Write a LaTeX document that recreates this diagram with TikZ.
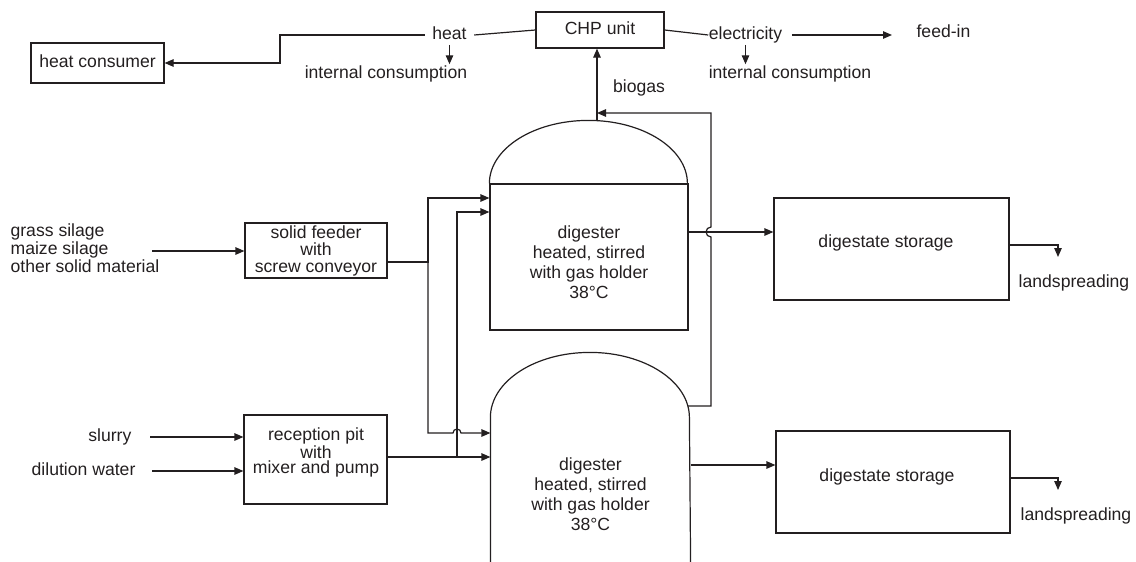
\documentclass[tikz,border=0pt]{standalone}
\usepackage{fontspec}
\setmainfont{Liberation Sans}
\usetikzlibrary{arrows.meta,positioning}
\definecolor{ink}{RGB}{35,31,32}

\begin{document}
\begin{tikzpicture}[
    x=1pt, y=-1pt,
    line width=1.2pt, color=ink,
    every node/.style={font=\fontsize{17.6}{17}\selectfont},
    lbl/.style={inner sep=1pt, text height=12.6pt, text depth=3.7pt},
    box/.style={draw, inner sep=0pt},
    tank/.style={draw, minimum width=198pt, minimum height=146pt,
        inner sep=0pt},
    >={Triangle[length=9pt,width=7.5pt]},
    ]
    \useasboundingbox (0,0) rectangle (1136,562);

    %CHP unit
    \node[box, lbl, inner sep=0pt, minimum width=128pt, minimum height=36pt] (chp) at (600,30) {CHP unit};
    \node[lbl, inner xsep=7pt] (heat) at (449.5,35) {heat};
    \node[lbl] (ic1) at (386,74) {internal consumption};
    \node[box, lbl, inner sep=0pt, minimum width=133pt, minimum height=40pt] (hc) at (97.5,63) {heat consumer};
    \node[lbl, inner xsep=0pt] (elec) at (745.5,35) {electricity};
    \node[lbl] (ic2) at (790,74) {internal consumption};
    \node[lbl] (feed) at (943.5,33) {feed-in};
    \node[lbl] (biogas) at (639,88) {biogas};

    \draw (chp.west) -- (heat.east);
    \draw[->] (heat.west) -- (280,35) |- (hc.east);
    \draw[->] (heat.south) -- (heat.south |- ic1.north);
    \draw (chp.east) -- (elec.west);
    \draw[->] ([xshift=9pt]elec.east) -- ([xshift=-23pt]feed.west |- elec.east);
    \draw[->] (elec.south) -- (elec.south |- ic2.north);

    %digesters
    \node[tank] (dig1) at (589,257) {};
    \draw (dig1.north west) arc[start angle=180, end angle=360, x radius=99, y radius=63];
    \node[align=center, font=\fontsize{17.6}{20}\selectfont] (txt1) at (589,262) {digester\\heated, stirred\\with gas holder\\38°C};
    \node[tank, draw=none, minimum width=199pt, minimum height=144pt] (dig2) at (590.5,490) {};
    \draw (dig2.south west) -- (dig2.north west)
        arc[start angle=180, end angle=360, x radius=99.5, y radius=65] -- (dig2.south east);
    \node[align=center, font=\fontsize{17.6}{20}\selectfont] (txt2) at (590.5,494) {digester\\heated, stirred\\with gas holder\\38°C};

    %biogas
    \coordinate (top1) at (597,121.2);
    \coordinate (top2) at (688,406);
    \draw[->] (top1) -- (top1 |- chp.south);
    \draw[->] (top2) -- (711,406) -- (711,237)
        arc[start angle=90, end angle=270, radius=5] -- (711,113) -- (top1 |- 0,113);

    %feeding
    \node[box, minimum width=142pt, minimum height=55pt, align=center, font=\fontsize{17.6}{17}\selectfont] (feeder) at (316,250.5) {solid feeder\\with\\screw conveyor};
    \node[box, minimum width=143pt, minimum height=89pt] (pit) at (315.5,459.5) {};
    \node[align=center, font=\fontsize{17.6}{15.5}\selectfont] (pittxt) at (316,452.5) {reception pit\\with\\mixer and pump};
    \node[align=left, anchor=west, inner sep=0pt, font=\fontsize{17.6}{18}\selectfont] (solids) at (10,248) {grass silage\\maize silage\\other solid material};
    \node[lbl, anchor=east] (slurry) at (133,437) {slurry};
    \node[lbl, anchor=east] (dil) at (137,471) {dilution water};

    \coordinate (in1) at (152,251);
    \draw[->] (in1) -- (in1 -| feeder.west);
    \draw[->] ([xshift=17pt]slurry.east) -- (slurry.east -| pit.west);
    \draw[->] ([xshift=15pt]dil.east) -- (dil.east -| pit.west);

    \coordinate (j1) at (428,262);
    \coordinate (j2) at (457,457);
    \draw[->] (feeder.east |- j1) -- (j1) |- (dig1.west |- 0,198);
    \draw[->] (j1) -- (428,433) -- (453,433)
        arc[start angle=180, end angle=360, radius=4] -- (dig2.west |- 0,433);
    \draw[->] (pit.east |- j2) -- (dig2.west |- j2);
    \draw[->] (j2) |- (dig1.west |- 0,212);

    %digestate storage
    \node[box, minimum width=235pt, minimum height=102pt] (store1) at (891.5,249) {};
    \node[lbl] (st1txt) at (886,243) {digestate storage};
    \node[box, minimum width=234pt, minimum height=102pt] (store2) at (893,482) {};
    \node[lbl] (st2txt) at (887,477) {digestate storage};
    \node[lbl] (land1) at (1074,283) {landspreading};
    \node[lbl] (land2) at (1076,516) {landspreading};

    \draw[->] (dig1.east |- 0,232) -- (store1.west |- 0,232);
    \draw[->] (dig2.east |- 0,465) -- (store2.west |- 0,465);
    \draw[->] (store1.east |- 0,245) -| (1058,257);
    \draw[->] (store2.east |- 0,478) -| (1058,490);

\end{tikzpicture}
\end{document}
